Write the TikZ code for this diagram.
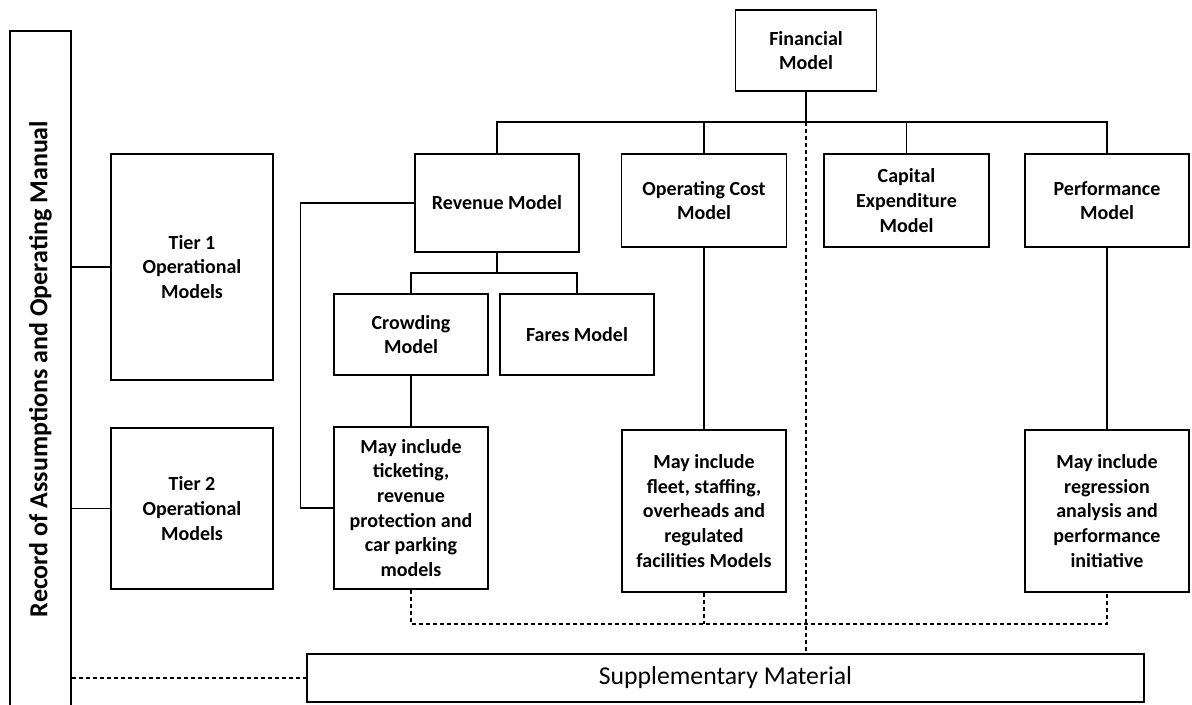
\documentclass[tikz,border=0pt]{standalone}
\usepackage{fontspec}
\setmainfont{Carlito}
\begin{document}
\begin{tikzpicture}[x=0.75pt,y=-0.75pt,line width=0.8pt,
		box/.style={draw,rectangle,align=center,inner sep=2pt,font=\bfseries\fontsize{15}{18.5}\selectfont},
		link/.style={dash pattern=on 3pt off 2.25pt}]
		\useasboundingbox (0,0) rectangle (1192,704);
		
		\node[box,minimum width=507pt,minimum height=45.75pt,rotate=90,font=\bfseries\fontsize{19.5}{23}\selectfont] (record) at (40.5,369) {Record of Assumptions and Operating Manual};
		\node[box,minimum width=121.5pt,minimum height=169.5pt] (tier1) at (192,267) {Tier 1\\Operational\\Models};
		\node[box,minimum width=121.5pt,minimum height=120.75pt] (tier2) at (192,508.5) {Tier 2\\Operational\\Models};
		
		\node[box,minimum width=105.75pt,minimum height=60.75pt] (fin) at (806,50.5) {Financial\\Model};
		\node[box,minimum width=123pt,minimum height=73.5pt] (rev) at (497,203) {Revenue Model};
		\node[box,minimum width=123.75pt,minimum height=69.75pt] (opcost) at (704,200.5) {Operating Cost\\Model};
		\node[box,minimum width=123.75pt,minimum height=69.75pt] (capex) at (906.5,200.5) {Capital\\Expenditure\\Model};
		\node[box,minimum width=123pt,minimum height=69.75pt] (perf) at (1107,200.5) {Performance\\Model};
		\node[box,minimum width=115.5pt,minimum height=60.75pt] (crowd) at (411,334.5) {Crowding\\Model};
		\node[box,minimum width=115.5pt,minimum height=60.75pt] (fares) at (577,334.5) {Fares Model};
		\node[box,minimum width=115.5pt,minimum height=121.5pt] (ticket) at (411,508) {May include\\ticketing,\\revenue\\protection and\\car parking\\models};
		\node[box,minimum width=123pt,minimum height=121.5pt] (fleet) at (704,511) {May include\\fleet, staffing,\\overheads and\\regulated\\facilities Models};
		\node[box,minimum width=123pt,minimum height=121.5pt] (regress) at (1107,511) {May include\\regression\\analysis and\\performance\\initiative};
		\node[box,minimum width=627.75pt,minimum height=36pt,font=\fontsize{19.3}{23}\selectfont] (supp) at (725.5,678) {Supplementary Material};
		
		\coordinate (bus) at (806,122);
		\coordinate (split) at (497,273);
		\coordinate (dash) at (806,624);
		
		\draw (fin) -- (bus);
		\draw (rev.north) |- (bus);
		\draw (opcost.north) |- (bus);
		\draw (capex.north) |- (bus);
		\draw (perf.north) |- (bus);
		\draw (rev) -- (split);
		\draw (crowd.north) |- (split);
		\draw (fares.north) |- (split);
		\draw (crowd) -- (ticket);
		\draw (rev.west) -- ++(-114,0) |- (ticket.west);
		\draw (opcost) -- (fleet);
		\draw (perf) -- (regress);
		\draw (record.south |- tier1) -- (tier1);
		\draw (record.south |- tier2) -- (tier2);
		
		\draw[link] (record.south |- supp) -- (supp);
		\draw[link] (ticket.south) |- (dash) -| (regress.south);
		\draw[link] (fleet.south) -- (fleet.south |- dash);
		\draw[link] (bus) -- (bus |- supp.north);
	\end{tikzpicture}
\end{document}
